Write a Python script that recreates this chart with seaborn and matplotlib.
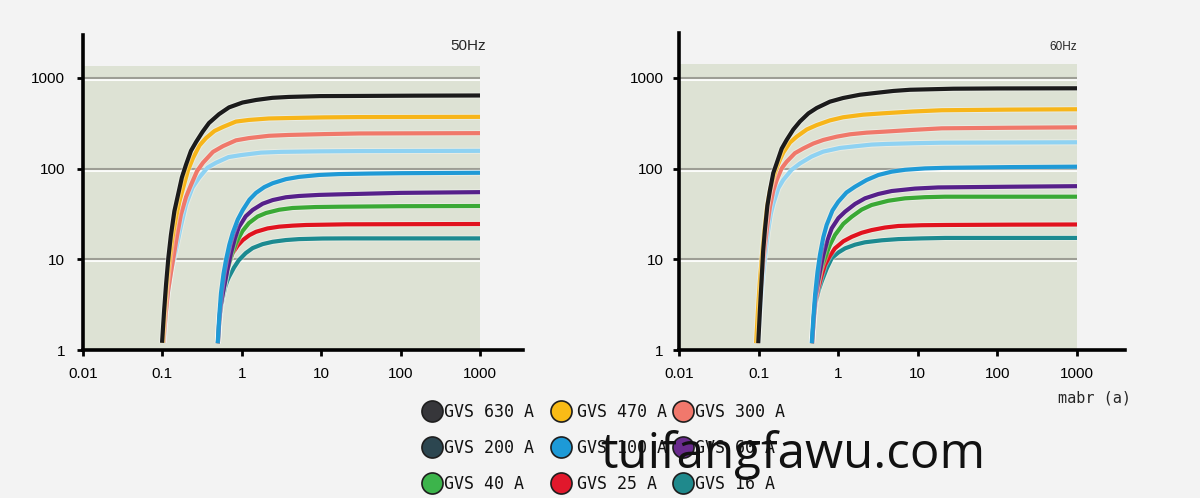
import matplotlib
matplotlib.use("Agg")
import matplotlib.pyplot as plt
import matplotlib.patheffects as pe
from matplotlib.patches import Rectangle
from matplotlib.ticker import NullLocator
import pandas as pd
import seaborn as sns


# ----- series / legend -----
series_names = [
    "GVS 630 A", "GVS 470 A", "GVS 300 A",
    "GVS 200 A", "GVS 100 A", "GVS 60 A",
    "GVS 40 A", "GVS 25 A", "GVS 16 A",
]
line_colors = [
    "#1b1b1b", "#f7b519", "#f0786a",
    "#8fd2f2", "#1f9ad6", "#56208a",
    "#3aa935", "#e1121e", "#1c8a90",
]
legend_colors = [
    "#36363a", "#f9bb16", "#f1786c",
    "#2c4650", "#1d9ad7", "#6a2b8e",
    "#3cb44b", "#e1182c", "#1f898c",
]

x_ticks = [0.01, 0.1, 1, 10, 100, 1000]
x_tick_labels = ["0.01", "0.1", "1", "10", "100", "1000"]
y_ticks = [1, 10, 100, 1000]
y_tick_labels = ["1", "10", "100", "1000"]

# ----- 50 Hz curves (x, y) -----
c630_50 = [(0.099, 1.2), (0.1047, 2.6), (0.111, 5.2), (0.119, 10.5), (0.128, 18.5),
           (0.1416, 34), (0.157, 51), (0.176, 80), (0.198, 110), (0.229, 157),
           (0.265, 196), (0.320, 254), (0.386, 318), (0.516, 398), (0.69, 473),
           (1.02, 535), (1.51, 571), (2.43, 603), (3.9, 617), (9.7, 630),
           (24, 632), (150, 637), (1000, 640)]
c470_50 = [(0.101, 1.2), (0.107, 2.7), (0.114, 5.5), (0.123, 9.8), (0.132, 16),
           (0.140, 21.9), (0.148, 28.5), (0.164, 43.6), (0.182, 61), (0.210, 95.5),
           (0.243, 131), (0.293, 180), (0.354, 217), (0.453, 260), (0.58, 288),
           (0.844, 330), (1.23, 344), (2.19, 357), (3.9, 361), (10.7, 367),
           (30, 370), (1000, 372)]
c300_50 = [(0.103, 1.2), (0.110, 2.5), (0.118, 4.5), (0.127, 6.8), (0.136, 9.8),
           (0.153, 18.2), (0.171, 31), (0.198, 48.4), (0.229, 66), (0.273, 93.8),
           (0.324, 116), (0.434, 153), (0.58, 177), (0.845, 205), (1.23, 217),
           (2.19, 230), (3.9, 235), (10.7, 240), (30, 244), (1000, 246)]
c200_50 = [(0.104, 1.2), (0.109, 2.24), (0.114, 3.6), (0.130, 7.8), (0.148, 12.7),
           (0.171, 23.3), (0.198, 40), (0.239, 61.7), (0.289, 79), (0.370, 102.6),
           (0.473, 116), (0.681, 134), (0.98, 141), (1.74, 150), (3.1, 153),
           (9.6, 155), (30, 156), (1000, 157)]
c100_50 = [(0.497, 1.19), (0.521, 2.45), (0.547, 4.25), (0.588, 6.9), (0.632, 9.8),
           (0.697, 14.5), (0.768, 19.5), (0.889, 27.4), (1.03, 35), (1.25, 45.5),
           (1.51, 54), (1.92, 62.5), (2.45, 69), (3.59, 76.5), (5.25, 81),
           (9.4, 85.1), (16.7, 87), (41, 88.2), (100, 89), (1000, 90)]
c60_50 = [(0.50, 1.19), (0.519, 2.04), (0.54, 3.0), (0.568, 3.94), (0.597, 4.95),
          (0.659, 7.7), (0.73, 11.7), (0.819, 17.1), (0.92, 22.7), (1.12, 29.8),
          (1.37, 35), (1.83, 41), (2.45, 45), (3.59, 48.3), (5.25, 49.9),
          (9.4, 51.3), (16.7, 52), (100, 54), (1000, 55)]
c40_50 = [(0.50, 1.19), (0.519, 2.04), (0.54, 3.0), (0.569, 3.92), (0.60, 5.0),
          (0.630, 6.25), (0.66, 7.6), (0.746, 11.2), (0.845, 15.1), (1.02, 20.5),
          (1.23, 25.1), (1.58, 29.6), (2.02, 32.4), (2.96, 35.2), (4.36, 36.8),
          (8.5, 37.7), (16.7, 38), (100, 38.5), (1000, 38.7)]
c25_50 = [(0.50, 1.19), (0.519, 2.04), (0.54, 3.0), (0.569, 4.0), (0.60, 5.2),
          (0.632, 7.06), (0.697, 9.4), (0.768, 11.7), (0.889, 14.2), (1.03, 16.3),
          (1.25, 18.5), (1.51, 20.1), (2.11, 21.9), (2.95, 22.9), (4.36, 23.5),
          (6.45, 23.9), (20.5, 24.3), (1000, 24.5)]
c16_50 = [(0.50, 1.19), (0.524, 2.02), (0.55, 3.0), (0.584, 3.95), (0.62, 5.0),
          (0.654, 5.75), (0.69, 6.4), (0.797, 8.1), (0.92, 9.8), (1.12, 11.7),
          (1.37, 13.3), (1.83, 14.7), (2.45, 15.6), (3.59, 16.3), (5.25, 16.7),
          (10.4, 16.95), (20.5, 17.0), (1000, 17.0)]

# ----- 60 Hz curves -----
c630_60 = [(0.099, 1.19), (0.104, 2.78), (0.109, 5.9), (0.114, 12.2), (0.120, 21),
           (0.129, 39.2), (0.139, 58), (0.153, 89.5), (0.169, 115), (0.195, 166),
           (0.225, 207), (0.273, 270), (0.331, 331), (0.422, 406), (0.537, 466),
           (0.787, 547), (1.15, 600), (1.87, 652), (3.05, 685), (4.93, 718),
           (8, 740), (28, 760), (100, 765), (1000, 768)]
c470_60 = [(0.093, 1.19), (0.0984, 2.84), (0.104, 5.9), (0.111, 11.9), (0.118, 21),
           (0.127, 37.2), (0.137, 55), (0.145, 67), (0.152, 78), (0.161, 90.6),
           (0.17, 104), (0.186, 126), (0.204, 150), (0.248, 194), (0.301, 225),
           (0.403, 270), (0.537, 302), (0.787, 340), (1.15, 368), (2.05, 393),
           (3.66, 407), (8.55, 426), (20, 440), (141, 447), (1000, 451)]
c300_60 = [(0.097, 1.19), (0.102, 2.68), (0.108, 5.5), (0.115, 10.05), (0.122, 16),
           (0.130, 25.2), (0.139, 38), (0.153, 57.1), (0.169, 75), (0.195, 101),
           (0.225, 119), (0.286, 148), (0.365, 167), (0.487, 189), (0.65, 207),
           (0.957, 225), (1.41, 239), (2.27, 249), (3.66, 255), (8.55, 267),
           (20, 278), (141, 282), (1000, 285)]
c200_60 = [(0.098, 1.19), (0.104, 2.56), (0.11, 5), (0.121, 11.2), (0.132, 21),
           (0.142, 31.5), (0.153, 41), (0.177, 60.8), (0.204, 75), (0.260, 97),
           (0.331, 114), (0.464, 136), (0.65, 154), (1.055, 169), (1.71, 177),
           (2.63, 184), (4.05, 187), (9.0, 190.5), (20, 193), (1000, 195)]
c100_60 = [(0.465, 1.19), (0.488, 2.30), (0.512, 4.04), (0.550, 7.3), (0.59, 11.2),
           (0.650, 17.5), (0.716, 23.9), (0.847, 34.5), (1.0, 43), (1.27, 54.5),
           (1.62, 63), (2.27, 74.8), (3.19, 85), (4.70, 92.5), (6.9, 97),
           (12.3, 100.5), (22, 102), (148, 103.9), (1000, 105)]
c60_60 = [(0.47, 1.19), (0.494, 2.34), (0.52, 4.0), (0.558, 5.8), (0.60, 8.0),
          (0.624, 9.5), (0.65, 11.2), (0.735, 16.4), (0.83, 22), (1.007, 28.5),
          (1.22, 33.5), (1.63, 40.8), (2.17, 47), (3.19, 52.5), (4.7, 56.6),
          (9.2, 60.2), (18, 62), (135, 63.1), (1000, 64)]
c40_60 = [(0.47, 1.19), (0.494, 2.34), (0.52, 4.0), (0.559, 5.6), (0.60, 7.5),
          (0.639, 8.9), (0.68, 10.3), (0.787, 14.4), (0.91, 18.5), (1.16, 24.6),
          (1.48, 29.5), (1.97, 35.3), (2.63, 39.7), (4.26, 44.2), (6.9, 47),
          (12.3, 48.4), (22, 49), (148, 49), (1000, 49)]
c25_60 = [(0.47, 1.19), (0.494, 2.2), (0.52, 3.5), (0.54, 4.15), (0.56, 4.8),
          (0.617, 6.6), (0.68, 8.65), (0.787, 11.0), (0.91, 13.2), (1.16, 15.8),
          (1.48, 17.7), (1.97, 19.6), (2.63, 21), (3.87, 22.4), (5.7, 23.3),
          (11.2, 23.75), (22, 23.9), (148, 24.1), (1000, 24.2)]
c16_60 = [(0.47, 1.19), (0.494, 2.1), (0.52, 3.3), (0.568, 4.55), (0.62, 5.7),
          (0.717, 7.9), (0.83, 10.3), (1.006, 11.9), (1.22, 13.2), (1.63, 14.5),
          (2.17, 15.4), (3.52, 16.2), (5.7, 16.7), (11.2, 17.0), (22, 17.2),
          (148, 17.2), (1000, 17.2)]

curves_50 = [c630_50, c470_50, c300_50, c200_50, c100_50, c60_50, c40_50, c25_50, c16_50]
curves_60 = [c630_60, c470_60, c300_60, c200_60, c100_60, c60_60, c40_60, c25_60, c16_60]

# draw order: last one ends on top
draw_order = ["GVS 16 A", "GVS 25 A", "GVS 40 A", "GVS 60 A", "GVS 100 A",
              "GVS 200 A", "GVS 300 A", "GVS 470 A", "GVS 630 A"]


def to_frame(curves):
    rows = []
    for name, pts in zip(series_names, curves):
        for x, y in pts:
            rows.append({"series": name, "current": x, "value": y})
    return pd.DataFrame(rows)


sns.set_style("ticks")
plt.rcParams["font.family"] = ["Liberation Sans", "DejaVu Sans"]

BG = "#f3f3f3"
PANEL = "#dde2d4"
W, H = 1200, 498

fig = plt.figure(figsize=(12, 4.98), dpi=100, facecolor=BG)


def draw_panel(rect, curves, x_top, y_top, panel_top, label_pad):
    ax = fig.add_axes(rect)
    ax.set_facecolor("none")
    ax.set_xscale("log")
    ax.set_yscale("log")
    ax.set_xlim(0.01, x_top)
    ax.set_ylim(1, y_top)

    ax.add_patch(Rectangle((0.0104, 1.0), 1000 - 0.0104, panel_top - 1.0,
                           facecolor=PANEL, edgecolor="none", zorder=0))
    ax.hlines([10, 100, 1000], 0.0104, 1000, color="#9d9e95", lw=1.5, zorder=1,
              path_effects=[pe.SimpleLineShadow(offset=(0, -1.5), shadow_color="white",
                                                alpha=0.9), pe.Normal()])

    df = to_frame(curves)
    sns.lineplot(data=df, x="current", y="value", hue="series",
                 hue_order=draw_order,
                 palette=dict(zip(series_names, line_colors)),
                 sort=False, estimator=None, legend=False,
                 lw=3.0, ax=ax, zorder=3)
    for line in ax.lines:
        line.set_solid_capstyle("butt")
        line.set_solid_joinstyle("round")
        line.set_path_effects([pe.Stroke(linewidth=4.4, foreground=(1, 1, 1, 0.35)),
                               pe.Normal()])

    ax.set_xticks(x_ticks)
    ax.set_xticklabels(x_tick_labels)
    ax.set_yticks(y_ticks)
    ax.set_yticklabels(y_tick_labels)
    ax.xaxis.set_minor_locator(NullLocator())
    ax.yaxis.set_minor_locator(NullLocator())
    ax.tick_params(axis="both", direction="out", length=4, width=2, colors="black",
                   labelsize=11)
    ax.tick_params(axis="x", pad=8)
    ax.tick_params(axis="y", pad=label_pad)

    for side in ["top", "right"]:
        ax.spines[side].set_visible(False)
    for side in ["left", "bottom"]:
        ax.spines[side].set_linewidth(2.6)
        ax.spines[side].set_color("black")
    ax.set_xlabel("")
    ax.set_ylabel("")
    return ax


# ----- panels -----
ax50 = draw_panel([83 / W, 1 - 350 / H, 440 / W, 315 / H], curves_50,
                  10 ** 3.5416, 10 ** 3.473, 1352, 9)
ax60 = draw_panel([679 / W, 1 - 350 / H, 446 / W, 317 / H], curves_60,
                  10 ** 3.603, 10 ** 3.495, 1423, 7)

fig.text(468 / W, 1 - 46 / H, "50Hz", fontsize=11, ha="center", va="center")
fig.text(1063 / W, 1 - 47 / H, "60Hz", fontsize=8.5, ha="center", va="center")
fig.text(1094 / W, 1 - 398 / H, "mabr (a)", fontsize=11, ha="center", va="center",
         family="DejaVu Sans Mono")

# ----- legend (pixel-space overlay) -----
leg = fig.add_axes([0, 0, 1, 1], facecolor="none")
leg.set_xlim(0, W)
leg.set_ylim(H, 0)
leg.axis("off")

marker_x = [432, 561, 683]
text_x = [444, 577, 695]
row_y = [411, 447, 483]
for i, (name, col) in enumerate(zip(series_names, legend_colors)):
    r, c = divmod(i, 3)
    leg.scatter([marker_x[c]], [row_y[r]], s=230, color=col,
                edgecolor="#1e1e1e", linewidth=1.2, zorder=2)
    leg.text(text_x[c], row_y[r] + 1, name, fontsize=12, ha="left", va="center",
             family="DejaVu Sans Mono", color="#111111", zorder=3)

# watermark
leg.text(600, 468, "tuifangfawu.com", fontsize=35.5, family="Open Sans",
         ha="left", va="baseline", color="#111111", zorder=5)

fig.savefig("out.png", dpi=100, facecolor=BG)
